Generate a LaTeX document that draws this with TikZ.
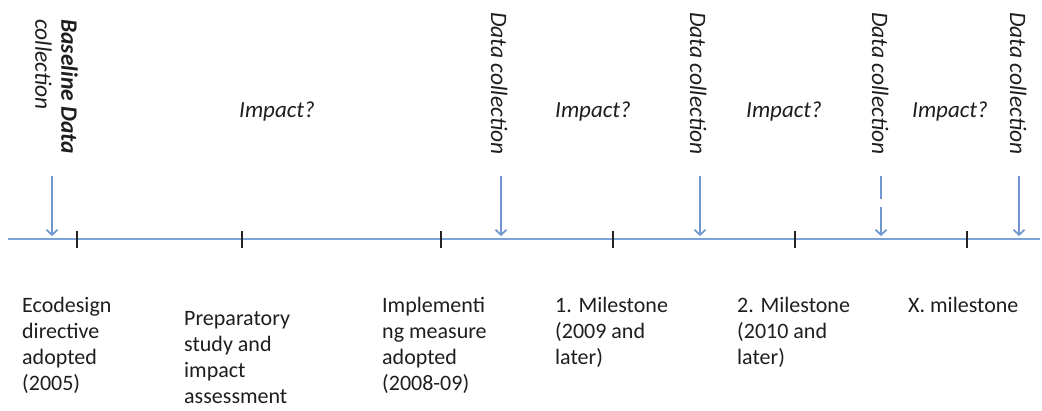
\documentclass[tikz,border=0pt]{standalone}
\usepackage{fontspec}
\setmainfont{Carlito}
\usetikzlibrary{arrows.meta}
\definecolor{axisblue}{RGB}{125,162,212}
\definecolor{arrblue}{RGB}{112,152,206}
\definecolor{tickcol}{RGB}{35,35,35}
\definecolor{txt}{RGB}{30,30,30}
\tikzset{
  axisline/.style={draw=axisblue, line width=2pt},
  tickline/.style={draw=tickcol, line width=2pt},
  dcarrow/.style={draw=arrblue, line width=1.8pt, -{Straight Barb[length=5pt,width=11pt,line width=1.8pt]}},
  lbl/.style={inner sep=0pt, anchor=north west, align=left, text=txt, font=\fontsize{22}{26}\selectfont},
  vlbl/.style={inner sep=0pt, anchor=base west, rotate=-90, text=txt, font=\fontsize{23.5}{26}\selectfont\itshape},
  implbl/.style={inner sep=0pt, anchor=base, text=txt, font=\fontsize{23}{26}\selectfont\itshape}
}
\begin{document}
\begin{tikzpicture}[x=1pt,y=1pt]
\useasboundingbox (0,0) rectangle (1042,-410);
% axis
\coordinate (axL) at (8,-239);
\coordinate (axR) at (1040,-239);
\draw[axisline] (axL) -- (axR);
% ticks
\foreach \i/\x in {1/77,2/242,3/441,4/613,5/795,6/967}{
  \coordinate (t\i a) at (\x,-231);
  \coordinate (t\i b) at (\x,-248);
  \draw[tickline] (t\i a) -- (t\i b);
}
% data collection arrows
\foreach \i/\x in {1/52,2/501,3/700,5/1019}{
  \coordinate (d\i s) at (\x,-176);
  \coordinate (d\i e) at (\x,-236);
  \draw[dcarrow] (d\i s) -- (d\i e);
}
\coordinate (d4s) at (881,-176);
\coordinate (d4e) at (881,-236);
\draw[dcarrow, dash pattern=on 23pt off 8pt on 60pt] (d4s) -- (d4e);
% rotated labels
\node[lbl, rotate=-90, font=\fontsize{23.5}{26}\selectfont\itshape] (base) at (78,-19) {\textbf{Baseline Data}\\collection};
\node[vlbl] (dc2) at (491,-12) {Data collection};
\node[vlbl] (dc3) at (690,-12) {Data collection};
\node[vlbl] (dc4) at (872,-12) {Data collection};
\node[vlbl] (dc5) at (1010,-12) {Data collection};
% impact labels
\node[implbl] (imp1) at (277,-117) {Impact?};
\node[implbl] (imp2) at (593,-117) {Impact?};
\node[implbl] (imp3) at (784,-117) {Impact?};
\node[implbl] (imp4) at (950,-117) {Impact?};
% bottom labels
\node[lbl] (eco) at (22,-297) {Ecodesign\\directive\\adopted\\(2005)};
\node[lbl] (prep) at (184,-311) {Preparatory\\study and\\impact\\assessment};
\node[lbl] (impl) at (382,-297) {Implementi\\ng measure\\adopted\\(2008-09)};
\node[lbl] (m1) at (555,-297) {1. Milestone\\(2009 and\\later)};
\node[lbl] (m2) at (737,-297) {2. Milestone\\(2010 and\\later)};
\node[lbl] (mx) at (908,-297) {X. milestone};
\end{tikzpicture}
\end{document}
